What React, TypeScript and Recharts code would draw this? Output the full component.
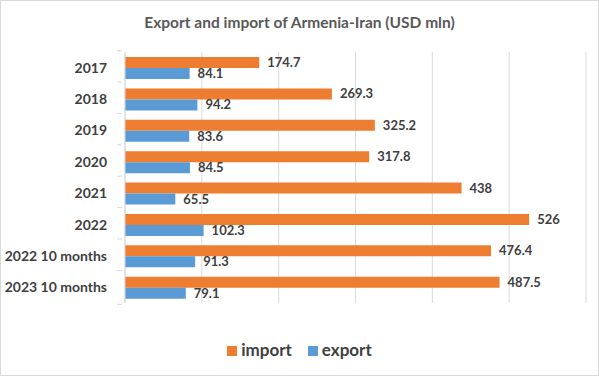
import { BarChart, Bar, XAxis, YAxis, CartesianGrid, LabelList, Legend } from 'recharts'

const categories = ['2017', '2018', '2019', '2020', '2021', '2022', '2022 10 months', '2023 10 months']
const importValues = [174.7, 269.3, 325.2, 317.8, 438, 526, 476.4, 487.5]
const exportValues = [84.1, 94.2, 83.6, 84.5, 65.5, 102.3, 91.3, 79.1]
const xTicks = [0, 100, 200, 300, 400, 500, 600]
const seriesNames = ['import', 'export']

const data = categories.map((name, i) => ({
  name,
  import: importValues[i],
  export: exportValues[i],
}))

const FONT = 'Lato, "Open Sans", sans-serif'
const TEXT = '#404040'
const ORANGE = '#ED7D31'
const BLUE = '#5B9BD5'
const seriesColors = [ORANGE, BLUE]
const BAND = 34

function CategoryTick(props: any) {
  const { x, y, payload, index } = props
  const last = index === categories.length - 1
  return (
    <g>
      <line x1={x} x2={x + 5} y1={y - BAND / 2} y2={y - BAND / 2} stroke="#d9d9d9" />
      {last && <line x1={x} x2={x + 5} y1={y + BAND / 2} y2={y + BAND / 2} stroke="#d9d9d9" />}
      <text
        x={x - 10}
        y={y}
        dy={5}
        textAnchor="end"
        fill={TEXT}
        fontSize={14}
        fontWeight={700}
        fontFamily={FONT}
      >
        {payload.value}
      </text>
    </g>
  )
}

function LegendContent() {
  return (
    <div style={{ display: 'flex', justifyContent: 'center', gap: 16 }}>
      {seriesNames.map((n, i) => (
        <div key={n} style={{ display: 'flex', alignItems: 'center', gap: 4 }}>
          <span style={{ width: 10, height: 10, background: seriesColors[i], display: 'inline-block', marginTop: 2 }} />
          <span style={{ color: TEXT, fontSize: 17, fontWeight: 700, fontFamily: FONT }}>{n}</span>
        </div>
      ))}
    </div>
  )
}

export default function App() {
  return (
    <div
      style={{
        position: 'absolute',
        left: 0,
        top: 0,
        width: 597,
        height: 374,
        border: '1px solid #d9d9d9',
        background: '#fff',
        fontFamily: FONT,
      }}
    >
      <div
        style={{
          position: 'absolute',
          top: 12,
          left: 0,
          width: 597,
          textAlign: 'center',
          fontSize: 15.5,
          fontWeight: 700,
          color: '#595959',
        }}
      >
        Export and import of Armenia-Iran (USD mln)
      </div>
      <BarChart
        width={597}
        height={374}
        data={data}
        layout="vertical"
        margin={{ top: 51, right: 12, bottom: 51, left: 0 }}
        barSize={11}
        barGap={0}
      >
        <CartesianGrid horizontal={false} stroke="#d9d9d9" />
        <XAxis type="number" domain={[0, 600]} ticks={xTicks} hide />
        <YAxis
          type="category"
          dataKey="name"
          width={124}
          axisLine={{ stroke: '#d9d9d9' }}
          tickLine={false}
          tick={<CategoryTick />}
          interval={0}
        />
        <Bar dataKey="import" name="import" fill={ORANGE} isAnimationActive={false}>
          <LabelList
            dataKey="import"
            position="right"
            offset={8}
            fill={TEXT}
            fontSize={13}
            fontWeight={700}
            fontFamily={FONT}
          />
        </Bar>
        <Bar dataKey="export" name="export" fill={BLUE} isAnimationActive={false}>
          <LabelList
            dataKey="export"
            position="right"
            offset={8}
            fill={TEXT}
            fontSize={13}
            fontWeight={700}
            fontFamily={FONT}
          />
        </Bar>
        <Legend content={<LegendContent />} wrapperStyle={{ top: 338, left: 0, width: 597 }} />
      </BarChart>
    </div>
  )
}
